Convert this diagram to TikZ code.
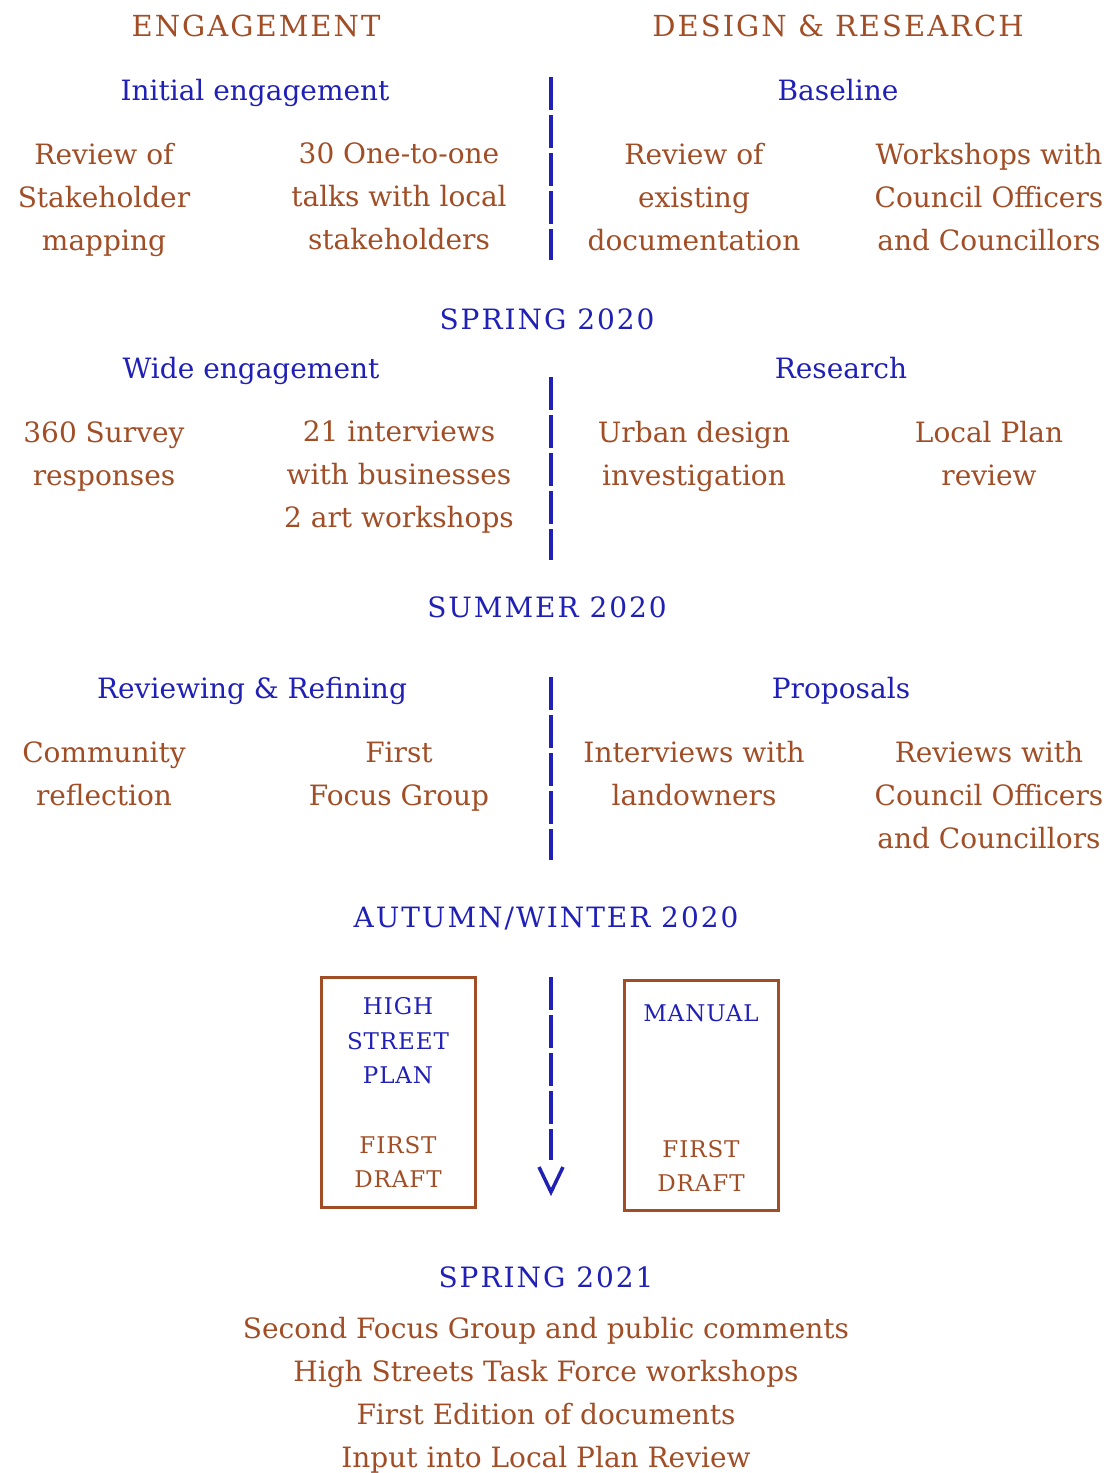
\documentclass[tikz,border=0pt]{standalone}
\usepackage{fontspec}
\setmainfont{DejaVu Serif}
\usepackage{tikz}
\usetikzlibrary{positioning,calc}

\definecolor{rust}{RGB}{161,78,38}
\definecolor{ink}{RGB}{32,32,182}

\begin{document}
\begin{tikzpicture}[x=1pt,y=-1pt,
	every node/.style={inner sep=0pt,align=center,
		execute at begin node=\strut,execute at end node=\strut},
	head/.style={text=rust,yshift=-3pt,font=\fontsize{29}{43}\selectfont\addfontfeature{LetterSpace=7}},
	season/.style={text=ink,yshift=-3pt,font=\fontsize{28}{43}\selectfont\addfontfeature{LetterSpace=7}},
	stage/.style={text=ink,yshift=-2pt,font=\fontsize{28}{43}\selectfont},
	item/.style={text=rust,yshift=-6pt,font=\fontsize{28}{43}\selectfont},
	doc/.style={draw=rust,line width=3pt,minimum width=154pt,minimum height=230pt},
	doctitle/.style={text=ink,yshift=-5pt,font=\fontsize{23}{34.5}\selectfont\addfontfeature{LetterSpace=4}},
	docdraft/.style={text=rust,yshift=-5pt,font=\fontsize{23}{34.5}\selectfont\addfontfeature{LetterSpace=4}},
	divider/.style={ink,line width=4pt,dash pattern=on 33pt off 5pt}]

	\useasboundingbox (0,0) rectangle (1107,1473);

	% Column headings
	\node[head] (eng) at (256,25) {ENGAGEMENT};
	\node[head] (des) at (838,25) {DESIGN \& RESEARCH};

	% First block
	\node[stage] (initial) at (255,90) {Initial engagement};
	\node[stage] (baseline) at (838,90) {Baseline};
	\node[item] (mapping) at (104,197) {Review of\\Stakeholder\\mapping};
	\node[item] (talks) at (399,197) {30 One-to-one\\talks with local\\stakeholders};
	\node[item] (docs) at (694,197) {Review of\\existing\\documentation};
	\node[item] (officers) at (989,197) {Workshops with\\Council Officers\\and Councillors};
	\coordinate (d1a) at (551,77);
	\coordinate (d1b) at (551,260);
	\draw[divider] (d1a) -- (d1b);

	\node[season] (spring) at (547,318) {SPRING 2020};

	% Second block
	\node[stage] (wide) at (251,368) {Wide engagement};
	\node[stage] (research) at (841,368) {Research};
	\node[item] (survey) at (104,454) {360 Survey\\responses};
	\node[item] (interviews) at (399,475) {21 interviews\\with businesses\\2 art workshops};
	\node[item] (urban) at (694,454) {Urban design\\investigation};
	\node[item] (localplan) at (989,454) {Local Plan\\review};
	\coordinate (d2a) at (551,377);
	\coordinate (d2b) at (551,560);
	\draw[divider] (d2a) -- (d2b);

	\node[season] (summer) at (547,606) {SUMMER 2020};

	% Third block
	\node[stage] (refining) at (252,688) {Reviewing \& Refining};
	\node[stage] (proposals) at (841,688) {Proposals};
	\node[item] (reflection) at (104,774) {Community\\reflection};
	\node[item] (focus) at (399,774) {First\\Focus Group};
	\node[item] (landowners) at (694,774) {Interviews with\\landowners};
	\node[item] (reviews) at (989,795) {Reviews with\\Council Officers\\and Councillors};
	\coordinate (d3a) at (551,677);
	\coordinate (d3b) at (551,860);
	\draw[divider] (d3a) -- (d3b);

	\node[season] (autumn) at (546,916) {AUTUMN/WINTER 2020};

	% The two draft documents
	\node[doc] (plan) at (398,1092) {};
	\node[doctitle] (plantitle) at (398,1041) {HIGH\\STREET\\PLAN};
	\node[docdraft] (plandraft) at (398,1162) {FIRST\\DRAFT};
	\node[doc] (manual) at (701,1095) {};
	\node[doctitle] (manualtitle) at (701,1010) {MANUAL};
	\node[docdraft] (manualdraft) at (701,1166) {FIRST\\DRAFT};

	% Arrow down to the next season
	\coordinate (d4a) at (551,977);
	\coordinate (d4b) at (551,1160);
	\coordinate (tip) at (551,1192);
	\draw[divider] (d4a) -- (d4b);
	\draw[ink,line width=3.5pt] ($(tip)+(-12,-25)$) -- (tip) -- ($(tip)+(12,-25)$);

	\node[season] (spring21) at (546,1276) {SPRING 2021};
	\node[item] (outcomes) at (546,1393) {Second Focus Group and public comments\\High Streets Task Force workshops\\First Edition of documents\\Input into Local Plan Review};
\end{tikzpicture}
\end{document}
